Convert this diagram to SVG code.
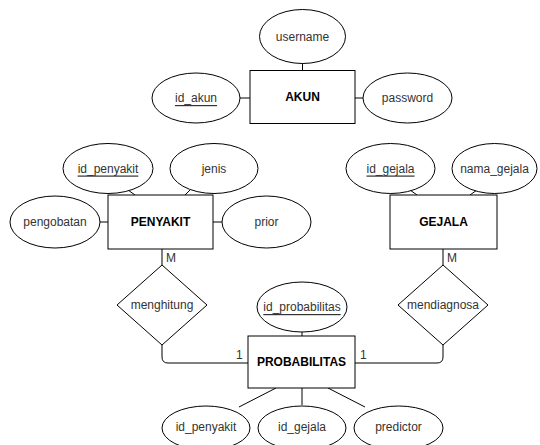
<svg xmlns="http://www.w3.org/2000/svg" width="540" height="445" viewBox="0 0 540 445">
<style>
.sh{fill:#fff;stroke:#000;stroke-width:1}
.ln{fill:none;stroke:#000;stroke-width:1}
text{font-family:"Liberation Sans",Arial,sans-serif;font-size:12px;fill:#333;text-anchor:middle;dominant-baseline:central}
.b{font-weight:bold;fill:#000}
.u{text-decoration:underline}
.lab{text-anchor:start;dominant-baseline:auto}
</style>
<rect width="540" height="445" fill="#fff"/>
<g id="connectors">
<path class="ln" d="M302.5 63V70"/>
<path class="ln" d="M240 98H250"/>
<path class="ln" d="M355 98H363"/>
<path class="ln" d="M128 190L135 195"/>
<path class="ln" d="M190 190L185 195"/>
<path class="ln" d="M100 222H108"/>
<path class="ln" d="M213 222H222"/>
<path class="ln" d="M410 190L417 195"/>
<path class="ln" d="M477 190L470 195"/>
<path class="ln" d="M162 249V265"/>
<path class="ln" d="M443 249V265"/>
<path class="ln" d="M162 345V357Q162 363 168 363H248"/>
<path class="ln" d="M443 345V357Q443 363 437 363H355"/>
<path class="ln" d="M302 332V336"/>
<path class="ln" d="M276 388L239 407"/>
<path class="ln" d="M302 388V405"/>
<path class="ln" d="M328 388L365 407"/>
<text class="lab" x="166" y="262">M</text>
<text class="lab" x="447" y="262">M</text>
<text class="lab" x="236" y="359">1</text>
<text class="lab" x="360" y="359">1</text>
</g>
<g id="akun"><rect class="sh" x="250" y="70.5" width="105" height="53"/><text class="b" x="302.5" y="97">AKUN</text></g>
<g id="username"><ellipse class="sh" cx="302.5" cy="36.5" rx="43" ry="27"/><text x="302.5" y="36.5">username</text></g>
<g id="id_akun"><ellipse class="sh" cx="196" cy="98" rx="44" ry="25"/><text class="u" x="196" y="98">id_akun</text></g>
<g id="password"><ellipse class="sh" cx="407.5" cy="98" rx="44.5" ry="25"/><text x="407.5" y="98">password</text></g>
<g id="penyakit"><rect class="sh" x="108" y="195" width="105" height="54"/><text class="b" x="160.5" y="222">PENYAKIT</text></g>
<g id="id_penyakit_attr"><ellipse class="sh" cx="108" cy="168.5" rx="45" ry="25"/><text class="u" x="108" y="168.5">id_penyakit</text></g>
<g id="jenis"><ellipse class="sh" cx="214" cy="168.5" rx="44" ry="25"/><text x="214" y="168.5">jenis</text></g>
<g id="pengobatan"><ellipse class="sh" cx="55" cy="222" rx="45" ry="26"/><text x="55" y="222">pengobatan</text></g>
<g id="prior"><ellipse class="sh" cx="266.5" cy="222" rx="44.5" ry="26"/><text x="266.5" y="222">prior</text></g>
<g id="gejala"><rect class="sh" x="390" y="195" width="107" height="54"/><text class="b" x="443.5" y="222">GEJALA</text></g>
<g id="id_gejala_attr"><ellipse class="sh" cx="390.5" cy="168.5" rx="44.5" ry="25"/><text class="u" x="390.5" y="168.5">id_gejala</text></g>
<g id="nama_gejala"><ellipse class="sh" cx="494.5" cy="168.5" rx="42.5" ry="25"/><text x="494.5" y="168.5">nama_gejala</text></g>
<g id="menghitung"><path class="sh" d="M162 265L207 305L162 345L117 305Z"/><text x="162" y="305">menghitung</text></g>
<g id="mendiagnosa"><path class="sh" d="M443 265L488 305L443 345L398 305Z"/><text x="443" y="305">mendiagnosa</text></g>
<g id="probabilitas"><rect class="sh" x="248" y="336" width="107" height="52"/><text class="b" x="301.5" y="362">PROBABILITAS</text></g>
<g id="id_probabilitas"><ellipse class="sh" cx="302" cy="307" rx="45" ry="25"/><text class="u" x="302" y="307">id_probabilitas</text></g>
<g id="p_id_penyakit"><ellipse class="sh" cx="206" cy="428" rx="44" ry="22"/><text x="206" y="427">id_penyakit</text></g>
<g id="p_id_gejala"><ellipse class="sh" cx="302" cy="428" rx="44" ry="22"/><text x="302" y="427">id_gejala</text></g>
<g id="predictor"><ellipse class="sh" cx="398.5" cy="428" rx="44.5" ry="22"/><text x="398.5" y="427">predictor</text></g>
</svg>
